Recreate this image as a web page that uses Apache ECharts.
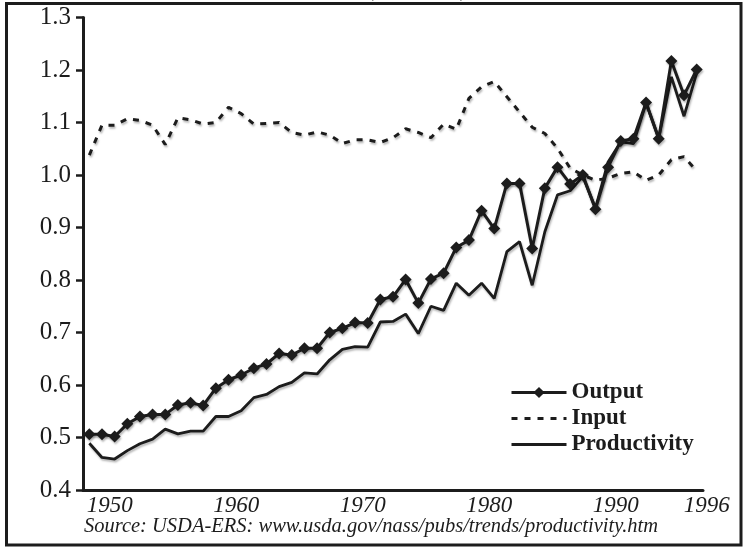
<!DOCTYPE html>
<html>
<head>
<meta charset="utf-8">
<script src="https://cdn.jsdelivr.net/npm/echarts@6/dist/echarts.min.js"></script>
<style>
  html, body { margin: 0; padding: 0; background: #ffffff; }
  #farmChart { width: 744px; height: 550px; }
</style>
</head>
<body>
<div id="farmChart"></div>
<script>
// years on the category axis
const years = [
  '1948', '1949', '1950', '1951', '1952', '1953', '1954', '1955', '1956', '1957',
  '1958', '1959', '1960', '1961', '1962', '1963', '1964', '1965', '1966', '1967',
  '1968', '1969', '1970', '1971', '1972', '1973', '1974', '1975', '1976', '1977',
  '1978', '1979', '1980', '1981', '1982', '1983', '1984', '1985', '1986', '1987',
  '1988', '1989', '1990', '1991', '1992', '1993', '1994', '1995', '1996'
];
// only these years get a label under the axis
const labelYears = ['1950', '1960', '1970', '1980', '1990', '1996'];

const outputIndex = [
  0.506, 0.506, 0.502, 0.526, 0.540, 0.544, 0.544, 0.562, 0.566, 0.561,
  0.594, 0.610, 0.619, 0.632, 0.640, 0.660, 0.657, 0.670, 0.670, 0.700,
  0.708, 0.719, 0.718, 0.763, 0.768, 0.801, 0.756, 0.802, 0.813, 0.862,
  0.876, 0.932, 0.898, 0.984, 0.984, 0.860, 0.975, 1.015, 0.983, 1.000,
  0.935, 1.015, 1.065, 1.069, 1.138, 1.069, 1.217, 1.152, 1.201
];
const inputIndex = [
  1.038, 1.095, 1.095, 1.107, 1.104, 1.095, 1.058, 1.109, 1.105, 1.097,
  1.100, 1.129, 1.117, 1.097, 1.098, 1.100, 1.081, 1.076, 1.082, 1.076,
  1.060, 1.067, 1.067, 1.062, 1.071, 1.088, 1.081, 1.071, 1.097, 1.087,
  1.146, 1.168, 1.178, 1.149, 1.120, 1.091, 1.079, 1.051, 1.013, 1.000,
  0.990, 0.994, 1.003, 1.006, 0.990, 1.000, 1.029, 1.035, 1.008
];
const productivityIndex = [
  0.489, 0.462, 0.459, 0.475, 0.488, 0.497, 0.516, 0.507, 0.512, 0.512,
  0.540, 0.540, 0.551, 0.576, 0.582, 0.597, 0.605, 0.623, 0.621, 0.648,
  0.668, 0.673, 0.672, 0.720, 0.721, 0.735, 0.698, 0.750, 0.742, 0.794,
  0.771, 0.794, 0.765, 0.854, 0.873, 0.790, 0.892, 0.962, 0.970, 0.997,
  0.937, 1.025, 1.063, 1.060, 1.137, 1.070, 1.187, 1.112, 1.194
];

const ink = '#1c1c1c';
const serif = 'Liberation Serif';
// soft grey drop shadow under the lines
const shadow = { shadowColor: 'rgba(0,0,0,0.28)', shadowBlur: 2, shadowOffsetX: 1, shadowOffsetY: 2 };
const yearFont = { fontFamily: serif, fontStyle: 'italic', fontSize: 23, color: ink };

let farmChart = echarts.init(document.getElementById('farmChart'));

let farmOption = {
  animation: false,
  backgroundColor: '#ffffff',
  grid: { left: 83, right: 41, top: 17.5, bottom: 60 },
  legend: {
    orient: 'vertical',
    left: 505,
    top: 376,
    itemWidth: 55,
    itemHeight: 14,
    itemGap: 3,
    lineStyle: { width: 3 },
    textStyle: { fontFamily: serif, fontSize: 23, fontWeight: 'bold', color: ink, lineHeight: 20 },
    data: ['Output', 'Input', 'Productivity']
  },
  xAxis: {
    type: 'category',
    data: years,
    boundaryGap: true,
    axisLine: { lineStyle: { color: ink, width: 3 } },
    axisTick: {
      length: 4,
      lineStyle: { color: ink, width: 2 },
      interval: function (index) { return index % 10 === 0; }
    },
    axisLabel: {
      interval: function (index, value) { return labelYears.indexOf(value) >= 0; },
      margin: 4,
      fontFamily: serif,
      fontStyle: 'italic',
      fontSize: 23,
      color: ink,
      // italic years lean a bit left of their point, the last one sits to the right
      formatter: function (value) { return value === '1996' ? '{r|' + value + '}' : '{l|' + value + '}'; },
      rich: {
        l: Object.assign({ padding: [0, 10, 0, 0] }, yearFont),
        r: Object.assign({ padding: [0, 0, 0, 20] }, yearFont)
      }
    }
  },
  yAxis: {
    type: 'value',
    min: 0.4,
    max: 1.3,
    interval: 0.1,
    splitLine: { show: false },
    axisLine: { show: true, lineStyle: { color: ink, width: 3 } },
    axisTick: { show: true, length: 7, lineStyle: { color: ink, width: 2.5 } },
    axisLabel: {
      margin: 12,
      fontFamily: serif,
      fontSize: 25,
      color: ink,
      formatter: function (v) { return v.toFixed(1); }
    }
  },
  series: [
    {
      name: 'Output',
      type: 'line',
      data: outputIndex,
      z: 4,
      symbol: 'diamond',
      symbolSize: 12,
      showAllSymbol: true,
      itemStyle: Object.assign({ color: ink }, shadow),
      lineStyle: Object.assign({ color: ink, width: 3 }, shadow)
    },
    {
      name: 'Input',
      type: 'line',
      data: inputIndex,
      z: 2,
      symbol: 'none',
      // transparent item style hides the legend dot, the line stays
      itemStyle: { color: ink, opacity: 0 },
      lineStyle: Object.assign({ color: ink, width: 3, type: [6, 7] }, shadow)
    },
    {
      name: 'Productivity',
      type: 'line',
      data: productivityIndex,
      z: 3,
      symbol: 'none',
      itemStyle: { color: ink, opacity: 0 },
      lineStyle: Object.assign({ color: ink, width: 2.8 }, shadow)
    }
  ],
  graphic: [
    {
      // title line is cut off above the frame, only the brackets peek through
      type: 'text',
      left: 366,
      top: -22.5,
      z: 1,
      style: { text: '(1996 = 1)', fontFamily: serif, fontSize: 24, fontWeight: 'bold', fill: ink }
    },
    {
      type: 'rect',
      z: 10,
      shape: { x: 6.5, y: 3.5, width: 734.5, height: 541.5 },
      style: { fill: 'none', stroke: ink, lineWidth: 3 }
    },
    {
      type: 'text',
      x: 371,
      y: 527,
      z: 10,
      style: {
        text: 'Source: USDA-ERS: www.usda.gov/nass/pubs/trends/productivity.htm',
        fontFamily: serif,
        fontStyle: 'italic',
        fontSize: 20.5,
        fill: ink,
        align: 'center',
        verticalAlign: 'middle'
      }
    }
  ]
};

farmChart.setOption(farmOption);
</script>
</body>
</html>
